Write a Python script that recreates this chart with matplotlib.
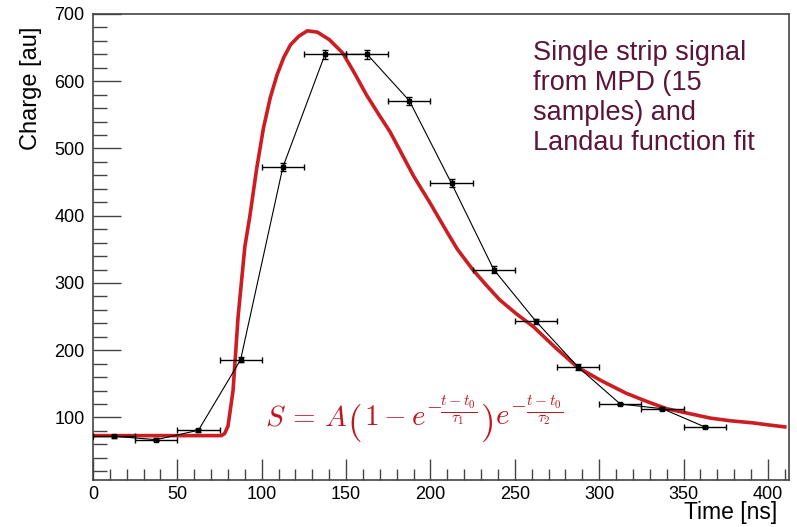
import matplotlib
matplotlib.use("Agg")
import matplotlib.pyplot as plt
from matplotlib.ticker import MultipleLocator

plt.rcParams['font.family'] = ['Liberation Sans', 'DejaVu Sans']
plt.rcParams['mathtext.fontset'] = 'cm'

# 15 samples from MPD, 25 ns bins
sample_t = [12.5, 37.5, 62.5, 87.5, 112.5, 137.5, 162.5, 187.5, 212.5,
            237.5, 262.5, 287.5, 312.5, 337.5, 362.5]
sample_q = [72, 67, 81, 186, 472, 640, 640, 571, 448, 320, 243, 175, 120, 113, 86]
sample_terr = [12.5] * 15
sample_qerr = [2, 2, 2, 4, 6, 7, 7, 6, 6, 5, 4, 4, 2, 2, 2]

# fit curve
fit_t = [0, 40, 76, 78, 80, 83, 86, 90, 93, 97, 101, 105, 109, 113, 117, 122,
         127, 133, 140, 148, 155, 162, 169, 176, 183, 190, 200, 210, 216, 225,
         233, 241, 251, 261, 274, 287, 301, 316, 328, 340, 353, 366, 378, 391,
         400, 410]
fit_q = [73, 73, 73, 76, 87, 140, 250, 354, 400, 470, 530, 575, 609, 635, 654,
         667, 675, 673, 662, 642, 612, 580, 552, 525, 492, 459, 418, 375, 350,
         320, 297, 275, 254, 235, 204, 175, 155, 136, 124, 113, 106, 99, 95, 92,
         89, 86]

fig = plt.figure(figsize=(7.97, 5.27), dpi=100)
ax = fig.add_axes([93 / 797, 1 - 480 / 527, (789 - 93) / 797, (480 - 14) / 527])

ax.plot(fit_t, fit_q, color='#cc1e22', lw=2.6, zorder=2)
ax.errorbar(sample_t, sample_q, xerr=sample_terr, yerr=sample_qerr,
            fmt='s-', color='black', ms=2.5, lw=0.8, elinewidth=1.0,
            capsize=2, capthick=1.0, zorder=3)

ax.set_xlim(0, 412.5)
ax.set_ylim(7, 700)
ax.xaxis.set_major_locator(MultipleLocator(50))
ax.xaxis.set_minor_locator(MultipleLocator(10))
ax.yaxis.set_major_locator(MultipleLocator(100))
ax.yaxis.set_minor_locator(MultipleLocator(20))
ax.tick_params(which='both', direction='in', top=False, right=False,
               color='#444444', width=1.0, labelsize=13)
ax.tick_params(axis='y', which='major', length=20, pad=6)
ax.tick_params(axis='y', which='minor', length=10)
ax.tick_params(axis='x', which='major', length=15, pad=4)
ax.tick_params(axis='x', which='minor', length=8)
for sp in ax.spines.values():
    sp.set_color('#444444')
    sp.set_linewidth(1.2)
ax.set_yticks([100, 200, 300, 400, 500, 600, 700])

fig.text(31 / 797, 1 - 27 / 527, 'Charge [au]', rotation=90, ha='center',
         va='top', fontsize=17)
fig.text(777 / 797, 1 - 524 / 527, 'Time [ns]', ha='right', va='bottom',
         fontsize=16.5)

fig.text(533 / 797, 1 - 40 / 527,
         'Single strip signal\nfrom MPD (15\nsamples) and\nLandau function fit',
         ha='left', va='top', fontsize=19.5, color='#5a1538', linespacing=1.2)

# formula, pieces placed one by one so the brackets and exponents are larger
red = '#c0141e'
base = 1 - 425 / 527
pmid = 1 - 423 / 527
fmid = 1 - 410 / 527
fig.text(265 / 797, base, r'$S\,=\,A$', ha='left', va='baseline',
         fontsize=21, color=red)
fig.text(347 / 797, pmid, r'$($', ha='left', va='center', fontsize=27, color=red)
fig.text(364 / 797, base, r'$1-e^{-}$', ha='left', va='baseline',
         fontsize=21, color=red)
fig.text(459 / 797, fmid, r'$\frac{t-t_0}{\tau_1}$', ha='center', va='center',
         fontsize=16, color=red)
fig.text(480 / 797, pmid, r'$)$', ha='left', va='center', fontsize=27, color=red)
fig.text(495 / 797, base, r'$e^{-}$', ha='left', va='baseline',
         fontsize=21, color=red)
fig.text(545 / 797, fmid, r'$\frac{t-t_0}{\tau_2}$', ha='center', va='center',
         fontsize=16, color=red)

fig.savefig('out.png', dpi=100)
